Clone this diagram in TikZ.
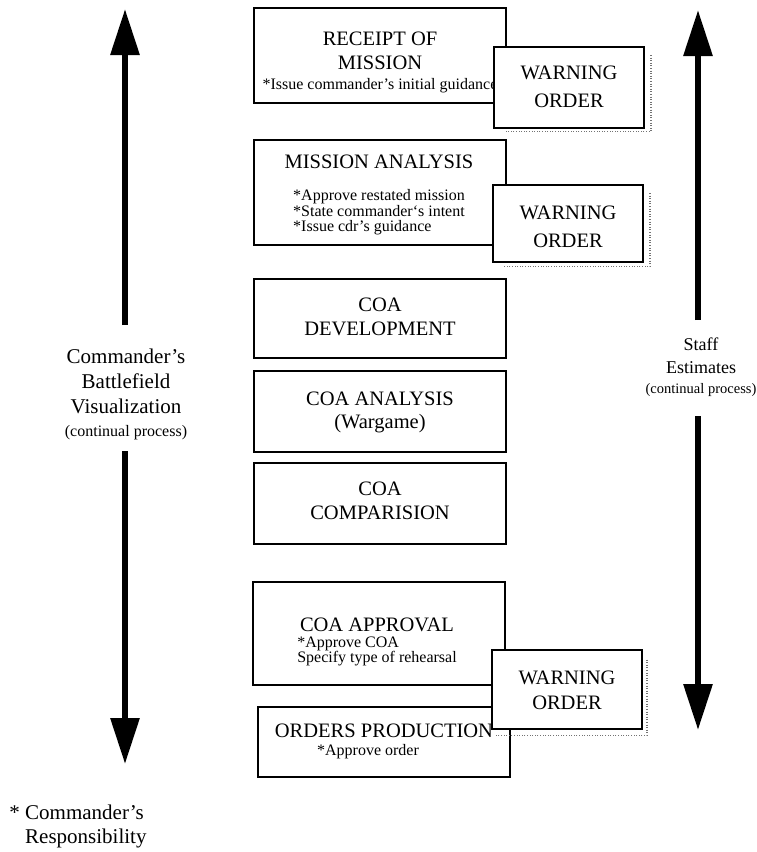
\documentclass[tikz,border=0pt]{standalone}
\usepackage{fontspec}
\setmainfont{Liberation Serif}
\usetikzlibrary{arrows.meta,calc}
\newcommand{\bigf}{\fontsize{20.5}{24}\selectfont}
\newcommand{\smf}{\fontsize{16}{15.2}\selectfont}
\begin{document}
\begin{tikzpicture}[x=1pt,y=-1pt,
  stagebox/.style={draw, line width=1.9pt, fill=white, inner sep=0pt, minimum width=252pt},
  warnbox/.style={draw, line width=2.5pt, fill=white, inner sep=0pt, minimum width=150pt},
  boxtext/.style={align=center, font=\bigf, inner sep=0pt, anchor=base},
  warntext/.style={align=center, font=\fontsize{20.5}{28}\selectfont, inner sep=0pt, anchor=base},
  shadowline/.style={black!55, line width=1.1pt, dash pattern=on 1pt off 1.6pt},
  bigarrow/.style={line width=6pt, -{Triangle[length=46pt,width=28pt]}},
  sidetext/.style={align=center, inner sep=0pt, anchor=base}
]
\useasboundingbox (0,0) rectangle (757,852);

% ---- side arrows ----
\coordinate (lu0) at (125,325); \coordinate (lu1) at (125,9);
\coordinate (ld0) at (125,451); \coordinate (ld1) at (125,764);
\coordinate (ru0) at (698,320); \coordinate (ru1) at (698,10);
\coordinate (rd0) at (698,416); \coordinate (rd1) at (698,730);
\draw[bigarrow] (lu0) -- (lu1);
\draw[bigarrow] (ld0) -- (ld1);
\draw[bigarrow] (ru0) -- (ru1);
\draw[bigarrow] (rd0) -- (rd1);

\node[sidetext, font=\fontsize{21}{25}\selectfont] (cbv) at (126,436)
  {Commander’s\\Battlefield\\Visualization\\[-2pt]{\fontsize{16}{16}\selectfont (continual process)}};
\node[sidetext, font=\fontsize{18}{23}\selectfont] (se) at (701,393)
  {Staff\\Estimates\\[-3pt]{\fontsize{14.5}{14.5}\selectfont (continual process)}};
\node[align=left, inner sep=0pt, anchor=base west, font=\fontsize{21}{24}\selectfont] (resp) at (25,843)
  {\llap{*\ }Commander’s\\Responsibility};

% ---- receipt of mission ----
\node[stagebox, minimum height=95pt] (receipt) at (380,55.5) {};
\node[boxtext] (receipttx) at (380,89)
  {RECEIPT OF\\MISSION\\[-4pt]{\smf *Issue commander’s initial guidance}};
\draw[shadowline] ($(569,87.5)+(82,-32.5)$) -- ($(569,87.5)+(82,44)$) -- ($(569,87.5)+(-64,44)$);
\node[warnbox, minimum height=81pt] (warn1) at (569,87.5) {};
\node[warntext] (warn1tx) at (569,107) {WARNING\\ORDER};

% ---- mission analysis ----
\node[stagebox, minimum height=105pt] (mission) at (380,192.5) {};
\node[boxtext] (missiontx) at (379,200.5)
  {MISSION ANALYSIS\\[8.5pt]{\smf\begin{tabular}[t]{@{}l@{}}*Approve restated mission\\{*}State commander`s intent\\{*}Issue cdr’s guidance\end{tabular}}};
\draw[shadowline] ($(568,223.5)+(82,-30.5)$) -- ($(568,223.5)+(82,43)$) -- ($(568,223.5)+(-64,43)$);
\node[warnbox, minimum height=77pt] (warn2) at (568,223.5) {};
\node[warntext] (warn2tx) at (568,247) {WARNING\\ORDER};

% ---- COA boxes ----
\node[stagebox, minimum height=79pt] (dev) at (380,318.5) {};
\node[boxtext] (devtx) at (380,335) {COA\\DEVELOPMENT};
\node[stagebox, minimum height=81pt] (anal) at (380,411.5) {};
\node[boxtext] (analtx) at (380,428) {COA ANALYSIS\\[-1pt](Wargame)};
\node[stagebox, minimum height=81pt] (comp) at (380,503.5) {};
\node[boxtext] (comptx) at (380,519) {COA\\COMPARISION};

% ---- approval / orders ----
\node[stagebox, minimum height=103pt] (appr) at (379,633.5) {};
\node[boxtext] (apprtx) at (377,647)
  {COA APPROVAL\\[-8pt]{\smf\begin{tabular}[t]{@{}l@{}}*Approve COA\\Specify type of rehearsal\end{tabular}}};
\node[stagebox, minimum height=70pt] (orders) at (384,742) {};
\node[boxtext] (orderstx) at (384,755)
  {ORDERS PRODUCTION\\[-6.5pt]{\smf *Approve order\kern 32pt}};
\draw[shadowline] ($(567,689.5)+(80,-30)$) -- ($(567,689.5)+(80,46)$) -- ($(567,689.5)+(-72,46)$);
\node[warnbox, minimum height=79pt] (warn3) at (567,689.5) {};
\node[warntext] (warn3tx) at (567,709) {WARNING\\[-3pt]ORDER};
\end{tikzpicture}
\end{document}
